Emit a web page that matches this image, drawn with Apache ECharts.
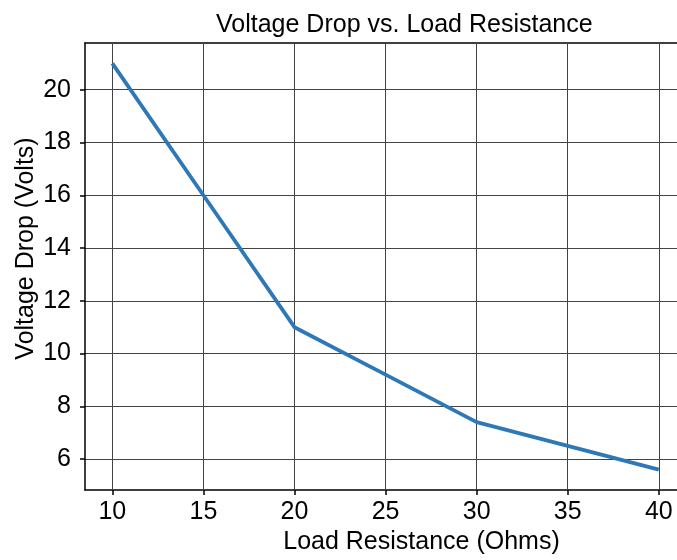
<!DOCTYPE html>
<html>
<head>
<meta charset="utf-8">
<script src="https://cdn.jsdelivr.net/npm/echarts@6/dist/echarts.min.js"></script>
<style>
  html, body { margin: 0; padding: 0; background: #fff; }
</style>
</head>
<body>
<div id="chart" style="width: 677px;height:560px;"></div>
<script>
// 负载电阻 (Ohms) 与电压降 (Volts)
var resistance = [10, 15, 20, 25, 30, 35, 40]
var voltageDrop = [21, 16, 11, 9.2, 7.4, 6.5, 5.6]
var xTicks = [10, 15, 20, 25, 30, 35, 40]
var yTicks = [6, 8, 10, 12, 14, 16, 18, 20]

var font = 'Liberation Sans, Arial, sans-serif'
var myChart = echarts.init(document.getElementById('chart'))

var points = []
for (var i = 0; i < resistance.length; i++) {
  points.push([resistance[i], voltageDrop[i]])
}
// 竖向网格线（右边不画边框）
var vLines = xTicks.map(function (v) { return { xAxis: v } })

var option = {
  backgroundColor: '#fff',
  animation: false,
  title: {
    text: 'Voltage Drop vs. Load Resistance',
    left: 211,
    top: 8,
    textStyle: {
      fontFamily: font,
      fontSize: 25,
      fontWeight: 'normal',
      color: '#000'
    }
  },
  grid: {
    left: 85,
    top: 43,
    right: 0,
    bottom: 70
  },
  xAxis: [{
    type: 'value',
    min: 8.5,
    max: 41,
    name: 'Load Resistance (Ohms)',
    nameLocation: 'middle',
    nameGap: 35,
    nameTextStyle: {
      fontFamily: font,
      fontSize: 25,
      color: '#000',
      padding: [0, 0, 0, 81]
    },
    axisLine: { show: true, lineStyle: { color: '#000', width: 1.5 } },
    axisTick: {
      show: true,
      length: 5,
      customValues: xTicks,
      lineStyle: { color: '#000', width: 1.5 }
    },
    axisLabel: {
      customValues: xTicks,
      margin: 10,
      fontFamily: font,
      fontSize: 25,
      color: '#000'
    },
    splitLine: { show: false }
  }, {
    // 上边框
    type: 'value',
    position: 'top',
    min: 8.5,
    max: 41,
    axisLine: { show: true, onZero: false, lineStyle: { color: '#000', width: 1.5 } },
    axisTick: { show: false },
    axisLabel: { show: false },
    splitLine: { show: false }
  }],
  yAxis: {
    type: 'value',
    min: 4.83,
    max: 21.77,
    name: 'Voltage Drop (Volts)',
    nameLocation: 'middle',
    nameGap: 46,
    nameMoveOverlap: false,
    nameTextStyle: {
      fontFamily: font,
      fontSize: 25,
      color: '#000',
      padding: [0, 0, 0, 36]
    },
    axisLine: { show: true, lineStyle: { color: '#000', width: 1.5 } },
    axisTick: {
      show: true,
      length: 5,
      customValues: yTicks,
      lineStyle: { color: '#000', width: 1.5 }
    },
    axisLabel: {
      customValues: yTicks,
      margin: 14,
      fontFamily: font,
      fontSize: 25,
      color: '#000'
    },
    splitLine: { show: true, lineStyle: { color: '#444', width: 1 } }
  },
  series: [{
    name: 'Voltage Drop',
    type: 'line',
    data: points,
    showSymbol: false,
    color: '#2e78b8',
    lineStyle: { width: 3.8, color: '#2e78b8' },
    markLine: {
      silent: true,
      symbol: 'none',
      label: { show: false },
      z: 1,
      lineStyle: { color: '#444', width: 1, type: 'solid' },
      data: vLines
    }
  }]
}
myChart.setOption(option)
</script>
</body>
</html>
